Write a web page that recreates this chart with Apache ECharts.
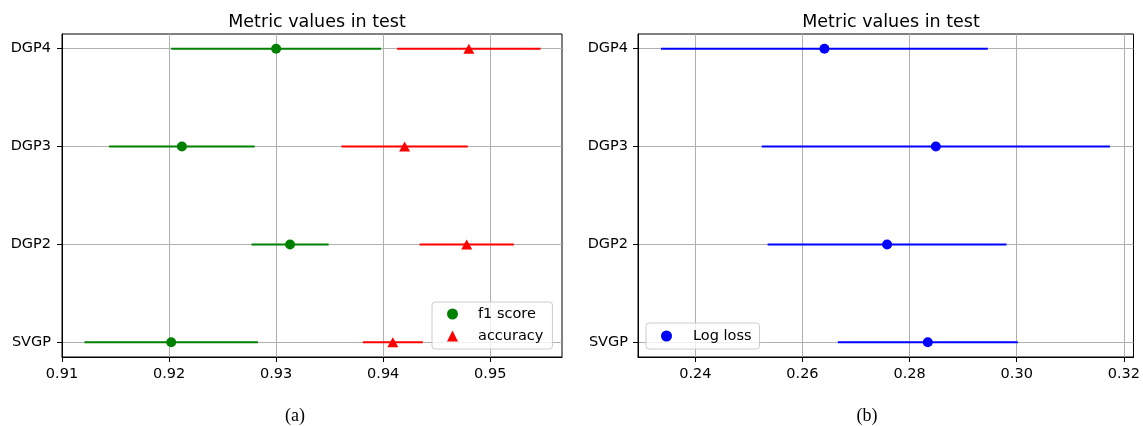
<!DOCTYPE html>
<html>
<head>
<meta charset="utf-8">
<title>Metric values in test</title>
<script src="https://cdn.jsdelivr.net/npm/echarts@6/dist/echarts.min.js"></script>
<style>
  html, body { margin: 0; padding: 0; background: #fff; }
  #chart { width: 1143px; height: 426px; }
</style>
</head>
<body>
<div id="chart"></div>
<script>
// Models, bottom to top
const categories = ['SVGP', 'DGP2', 'DGP3', 'DGP4'];

// Panel (a): F1 score and accuracy, mean and error half-width
const f1Mean = [0.9202, 0.9313, 0.9212, 0.9300];
const f1Err = [0.0081, 0.0036, 0.0068, 0.0098];
const accMean = [0.9409, 0.9478, 0.9420, 0.9480];
const accErr = [0.0028, 0.0044, 0.0059, 0.0067];

// Panel (b): log loss, mean and error half-width
const lossMean = [0.2834, 0.2758, 0.2849, 0.2641];
const lossErr = [0.0168, 0.0223, 0.0325, 0.0305];

// Axis ticks
const leftTicks = [0.91, 0.92, 0.93, 0.94, 0.95];
const rightTicks = [0.24, 0.26, 0.28, 0.30, 0.32];
const catTicks = [0, 1, 2, 3];

const FONT = 'DejaVu Sans';
const GREEN = '#008000', RED = '#ff0000', BLUE = '#0000ff';

const points = (means) => means.map((m, i) => [m, i]);
const bars = (means, errs) => means.map((m, i) => [i, m - errs[i], m + errs[i]]);

function errRender(params, api) {
  const y = api.value(0);
  const a = api.coord([api.value(1), y]);
  const b = api.coord([api.value(2), y]);
  return {
    type: 'line',
    shape: { x1: a[0], y1: a[1], x2: b[0], y2: b[1] },
    style: { stroke: api.visual('color'), lineWidth: 2 }
  };
}

function xAxisDef(idx, min, max, ticks, digits) {
  return {
    type: 'value', gridIndex: idx, min: min, max: max,
    axisLine: { show: true, onZero: false, lineStyle: { color: '#000', width: 1 } },
    axisTick: { show: true, length: 5, customValues: ticks, lineStyle: { color: '#000' } },
    axisLabel: {
      customValues: ticks, margin: 10, color: '#000', fontFamily: FONT, fontSize: 14.5,
      formatter: (v) => v.toFixed(digits)
    },
    splitLine: { show: true, lineStyle: { color: '#b0b0b0', width: 1 } }
  };
}

function yAxisDef(idx, margin) {
  return {
    type: 'value', gridIndex: idx, min: -0.15, max: 3.15,
    axisLine: { show: true, onZero: false, lineStyle: { color: '#000', width: 1 } },
    axisTick: { show: true, length: 5, customValues: catTicks, lineStyle: { color: '#000' } },
    axisLabel: {
      customValues: catTicks, margin: margin, color: '#000', fontFamily: FONT, fontSize: 14.5,
      formatter: (v) => categories[Math.round(v)]
    },
    splitLine: { show: true, lineStyle: { color: '#b0b0b0', width: 1 } }
  };
}

const legendBase = {
  orient: 'vertical',
  itemWidth: 11, itemHeight: 11,
  backgroundColor: 'rgba(255,255,255,0.8)',
  borderColor: '#cccccc', borderWidth: 1, borderRadius: 3,
  textStyle: { color: '#000', fontFamily: FONT, fontSize: 14.5, lineHeight: 16 },
  selectedMode: false
};

const chart = echarts.init(document.getElementById('chart'), null, { renderer: 'canvas' });

chart.setOption({
  animation: false,
  backgroundColor: '#fff',
  title: [
    { text: 'Metric values in test', left: 312, top: 8, textAlign: 'center',
      textStyle: { fontFamily: FONT, fontSize: 17.5, fontWeight: 'normal', color: '#000' } },
    { text: 'Metric values in test', left: 886, top: 8, textAlign: 'center',
      textStyle: { fontFamily: FONT, fontSize: 17.5, fontWeight: 'normal', color: '#000' } },
    { text: '(a)', left: 290, top: 402, textAlign: 'center',
      textStyle: { fontFamily: 'Liberation Serif', fontSize: 18, fontWeight: 'normal', color: '#000' } },
    { text: '(b)', left: 862, top: 402, textAlign: 'center',
      textStyle: { fontFamily: 'Liberation Serif', fontSize: 18, fontWeight: 'normal', color: '#000' } }
  ],
  grid: [
    { left: 62, top: 34, width: 500, height: 323, show: true, borderColor: '#000', borderWidth: 1, backgroundColor: '#fff' },
    { left: 638, top: 34, width: 496, height: 323, show: true, borderColor: '#000', borderWidth: 1, backgroundColor: '#fff' }
  ],
  xAxis: [
    xAxisDef(0, 0.91, 0.9567, leftTicks, 2),
    xAxisDef(1, 0.2293, 0.3218, rightTicks, 2)
  ],
  yAxis: [
    yAxisDef(0, 11),
    yAxisDef(1, 10)
  ],
  legend: [
    Object.assign({}, legendBase, {
      left: 432, top: 302, padding: [4, 9, 5, 15], itemGap: 6,
      data: [{ name: 'f1 score', icon: 'circle' }, { name: 'accuracy', icon: 'triangle' }],
      textStyle: Object.assign({}, legendBase.textStyle, { padding: [0, 0, 0, 15] })
    }),
    Object.assign({}, legendBase, {
      left: 646, top: 323, padding: [5, 8, 5, 15], itemGap: 6,
      data: [{ name: 'Log loss', icon: 'circle' }],
      textStyle: Object.assign({}, legendBase.textStyle, { padding: [0, 0, 0, 16] })
    })
  ],
  series: [
    { name: 'f1 score err', type: 'custom', xAxisIndex: 0, yAxisIndex: 0, z: 2,
      itemStyle: { color: GREEN }, renderItem: errRender,
      encode: { x: [1, 2], y: 0 }, data: bars(f1Mean, f1Err) },
    { name: 'accuracy err', type: 'custom', xAxisIndex: 0, yAxisIndex: 0, z: 2,
      itemStyle: { color: RED }, renderItem: errRender,
      encode: { x: [1, 2], y: 0 }, data: bars(accMean, accErr) },
    { name: 'Log loss err', type: 'custom', xAxisIndex: 1, yAxisIndex: 1, z: 2,
      itemStyle: { color: BLUE }, renderItem: errRender,
      encode: { x: [1, 2], y: 0 }, data: bars(lossMean, lossErr) },
    { name: 'f1 score', type: 'scatter', xAxisIndex: 0, yAxisIndex: 0, z: 3,
      symbol: 'circle', symbolSize: 10, itemStyle: { color: GREEN, opacity: 1 },
      data: points(f1Mean) },
    { name: 'accuracy', type: 'scatter', xAxisIndex: 0, yAxisIndex: 0, z: 3,
      symbol: 'triangle', symbolSize: [11, 10], itemStyle: { color: RED, opacity: 1 },
      data: points(accMean) },
    { name: 'Log loss', type: 'scatter', xAxisIndex: 1, yAxisIndex: 1, z: 3,
      symbol: 'circle', symbolSize: 10, itemStyle: { color: BLUE, opacity: 1 },
      data: points(lossMean) }
  ]
});
</script>
</body>
</html>
